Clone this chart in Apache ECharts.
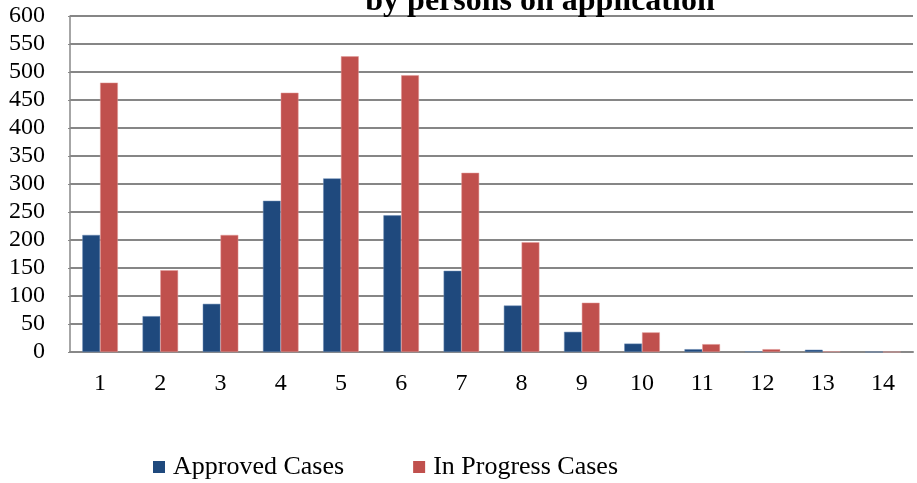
<!DOCTYPE html>
<html>
<head>
<meta charset="utf-8">
<script src="https://cdn.jsdelivr.net/npm/echarts@6/dist/echarts.min.js"></script>
<style>html,body{margin:0;padding:0;background:#fff}#c{width:917px;height:483px}</style>
</head>
<body>
<div id="c"></div>
<script>
var categories = ['1','2','3','4','5','6','7','8','9','10','11','12','13','14'];
var approvedCases = [209, 64, 86, 270, 310, 244, 145, 83, 36, 15, 5, 1, 4, 0];
var inProgressCases = [481, 146, 209, 463, 528, 494, 320, 196, 88, 35, 14, 5, 1, 0];
var yTicks = { min: 0, max: 600, interval: 50 };
var titleText = 'by persons on application';

var chart = echarts.init(document.getElementById('c'));
var serif = '"Liberation Serif", "Times New Roman", serif';
chart.setOption({
  animation: false,
  backgroundColor: '#fff',
  title: {
    text: titleText,
    left: 535, top: -19,
    textAlign: 'center',
    textStyle: { fontFamily: serif, fontSize: 32, fontWeight: 'bold', color: '#000' }
  },
  legend: {
    left: 148, top: 449,
    itemWidth: 12, itemHeight: 12, itemGap: 69,
    icon: 'rect',
    itemStyle: { borderWidth: 0 },
    textStyle: { fontFamily: serif, fontSize: 26, color: '#000', padding: [0, 0, 0, 3] },
    data: ['Approved Cases', 'In Progress Cases']
  },
  grid: { left: 70, right: 4, top: 16, bottom: 131, containLabel: false },
  xAxis: {
    type: 'category',
    data: categories,
    axisLine: { lineStyle: { color: '#888', width: 2 } },
    axisTick: { show: false },
    axisLabel: { fontFamily: serif, fontSize: 24, color: '#000', margin: 20 }
  },
  yAxis: {
    type: 'value',
    min: yTicks.min, max: yTicks.max, interval: yTicks.interval,
    axisLine: { show: true, lineStyle: { color: '#888', width: 1.5 } },
    axisTick: { show: true, length: 2, lineStyle: { color: '#888' } },
    splitLine: { lineStyle: { color: '#868686', width: 2 } },
    axisLabel: { fontFamily: serif, fontSize: 24, color: '#000', margin: 25 }
  },
  series: [
    {
      name: 'Approved Cases', type: 'bar', data: approvedCases,
      barGap: '0%', barCategoryGap: '41%',
      itemStyle: { color: '#1F497D', borderColor: '#6a8ab5', borderWidth: 0.5 }
    },
    {
      name: 'In Progress Cases', type: 'bar', data: inProgressCases,
      barGap: '0%', barCategoryGap: '41%',
      itemStyle: { color: '#C0504D', borderColor: '#e39a98', borderWidth: 0.5 }
    }
  ]
});
</script>
</body>
</html>
